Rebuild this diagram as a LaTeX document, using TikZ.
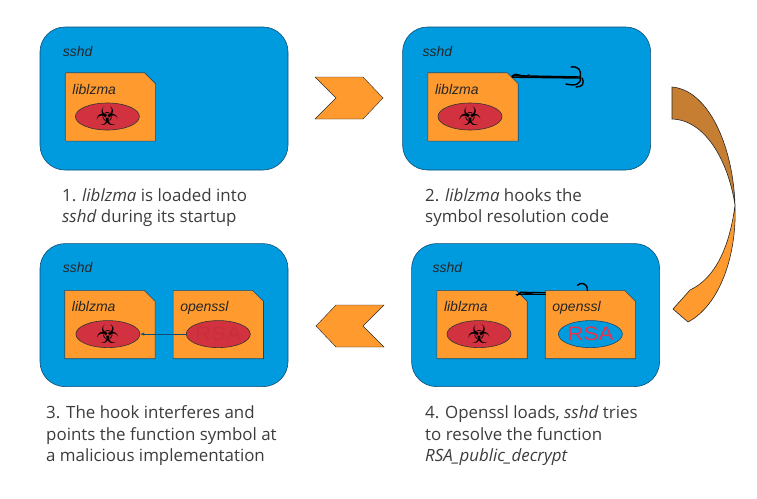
\documentclass[tikz,border=0pt]{standalone}
\usepackage{xcolor}
\usepackage{fontspec}
\setmainfont{Open Sans}
\newfontfamily\armfont{Liberation Sans}
\newfontfamily\biofont{DejaVu Sans}
\usetikzlibrary{
  arrows.meta,
  shapes.geometric,
  positioning,
  calc
}
\definecolor{ssBlue}{HTML}{009ADE}
\definecolor{ssEdge}{HTML}{0F4C75}
\definecolor{ssOrange}{HTML}{FF9A2E}
\definecolor{ssBrown}{HTML}{C67F32}
\definecolor{ssRed}{HTML}{D2323F}
\definecolor{ssRsa}{HTML}{E8344A}
\definecolor{ssText}{HTML}{3C3C3C}
\tikzset{
  procbox/.style={
    draw=ssEdge, fill=ssBlue, rounded corners=25pt, semithick,
    minimum width=248pt, minimum height=143pt, inner sep=0pt
  },
  libbox/.style={minimum width=90pt, minimum height=68pt, inner sep=0pt},
  libedge/.style={draw=ssEdge, fill=ssOrange, semithick},
  blob/.style={
    draw=black!80, ellipse, fill=ssRed, semithick,
    minimum width=64pt, minimum height=27pt, inner sep=0pt
  },
  bluebl/.style={blob, fill=ssBlue, draw=ssEdge},
  tag/.style={font=\armfont\fontsize{14}{16}\selectfont\itshape, text=black!85, inner sep=0pt, anchor=west},
  biotag/.style={font=\biofont\fontsize{26}{26}\selectfont, text=black, inner sep=0pt},
  rsatag/.style={font=\armfont\fontsize{19.5}{20}\selectfont, inner sep=0pt, xscale=1.15, transform shape},
  caption/.style={
    font=\fontsize{16.9}{21.6}\selectfont, text=ssText, align=left,
    inner sep=0pt, anchor=north west
  },
  chev/.style={draw=black!85, fill=ssOrange, thin},
  ribbon/.style={draw=black!85, semithick},
  hookline/.style={line width=1.4pt, black, line cap=round}
}

\begin{document}
\begin{tikzpicture}[x=1pt, y=-1pt]
  \useasboundingbox (0,0) rectangle (757,498);
  \node[procbox] (p1) at (164,98.5) {};
  \node[procbox, right=114pt of p1] (p2) {};
  \node[procbox, below=73pt of p1] (p3) {};
  \node[procbox, right=123pt of p3] (p4) {};
  \node[tag, below right=19pt and 23pt of p1.north west] (s1) {sshd};
  \node[tag, below right=19pt and 20pt of p2.north west] (s2) {sshd};
  \node[tag, below right=19pt and 23pt of p3.north west] (s3) {sshd};
  \node[tag, below right=19pt and 21pt of p4.north west] (s4) {sshd};
  % library boxes
  \node[libbox, below right=46pt and 25.5pt of p1.north west] (l1) {};
  \node[libbox, below right=46pt and 25.5pt of p2.north west] (l2) {};
  \node[libbox, below right=47pt and 25pt of p3.north west] (l3) {};
  \node[libbox, right=18pt of l3] (o3) {};
  \node[libbox, below right=47pt and 25.5pt of p4.north west] (l4) {};
  \node[libbox, right=18pt of l4] (o4) {};
  \foreach \b in {l1,l2,l3,o3,l4,o4}
    \draw[libedge] (\b.north west) -- ($(\b.north east)+(-11,0)$) -- ($(\b.north east)+(0,11)$)
      -- (\b.south east) -- (\b.south west) -- cycle;
  % first panel
  \node[tag, below right=11pt and 7pt of l1.north west] (t1) {liblzma};
  \node[blob, below=30pt of l1.north, xshift=-3pt] (b1) {};
  \node[biotag] at (b1) {☣};
  % second panel
  \node[tag, below right=11pt and 7pt of l2.north west] (t2) {liblzma};
  \node[blob, below=30pt of l2.north, xshift=-3pt] (b2) {};
  \node[biotag] at (b2) {☣};
  \coordinate (h2) at (580,77);
  \draw[hookline] ($(l2.north east)+(-6,3)$) -- (h2);
  \draw[hookline] ($(l2.north east)+(-6,4.5)$) -- ($(h2)+(0,1)$);
  \draw[hookline] ($(l2.north east)+(-6,4)$) .. controls (516,70) and (523,80) .. (529,75);
  \draw[hookline] (h2) .. controls (582,70) and (578,66) .. (571,67);
  \draw[hookline] (h2) .. controls (582,85) and (574,86) .. (566,84);
  \draw[hookline] ($(h2)+(2,1)$) .. controls (585,84) and (582,87) .. (576,87);
  % third panel
  \node[tag, below right=11pt and 7pt of l3.north west] (t3) {liblzma};
  \node[blob, below=30pt of l3.north, xshift=-2pt] (b3) {};
  \node[biotag] at (b3) {☣};
  \node[tag, below right=11pt and 7pt of o3.north west] (u3) {openssl};
  \node[blob, below=30pt of o3.north] (r3) {};
  \node[rsatag, text=ssRed!95!black] at (r3) {RSA};
  \draw[-{Latex[length=4pt]}, ssEdge] (r3.west) -- (b3.east);
  % fourth panel
  \node[tag, below right=11pt and 7pt of l4.north west] (t4) {liblzma};
  \node[blob, below=30pt of l4.north, xshift=-3pt] (b4) {};
  \node[biotag] at (b4) {☣};
  \node[tag, below right=11pt and 7pt of o4.north west] (u4) {openssl};
  \node[bluebl, below=30pt of o4.north] (r4) {};
  \node[rsatag, text=ssRsa] at (r4) {RSA};
  \draw[hookline] ($(l4.north east)+(-11,4)$) -- ($(o4.north west)+(0,4)$);
  \draw[hookline] ($(l4.north east)+(-7,2)$) -- ($(o4.north west)+(0,2.5)$);
  \draw[hookline] ($(l4.north east)+(-10,5)$) .. controls ($(l4.north east)+(-4,-2)$) and ($(l4.north east)+(0,7)$) .. ($(l4.north east)+(6,2)$);
  \coordinate (h4) at (o4.north);
  \draw[hookline] ($(h4)+(-3,0)$) .. controls ($(h4)+(-3,-8)$) and ($(h4)+(-10,-8)$) .. ($(h4)+(-13,-5)$);
  % arrows between panels
  \draw[chev] (315,77) -- (363,77) -- (383,98) -- (363,119) -- (315,119) -- (336,98) -- cycle;
  \draw[chev] (384,305) -- (336,305) -- (316,326) -- (336,347) -- (384,347) -- (363,326) -- cycle;
  \draw[ribbon, fill=ssBrown] (672,87) .. controls (708,90) and (733,145) .. (735,205)
    .. controls (728,160) and (705,120) .. (672,119) -- cycle;
  \draw[ribbon, fill=ssOrange] (735,205) .. controls (737,255) and (720,305) .. (688,322)
    -- (673,309) -- (690,290) .. controls (716,278) and (730,245) .. cycle;
  % captions
  \node[caption] (c1) at (62,188) {1. \textit{liblzma} is loaded into\\\textit{sshd} during its startup};
  \node[caption] (c2) at (425,188) {2. \textit{liblzma} hooks the\\symbol resolution code};
  \node[caption] (c3) at (46,405.5) {3. The hook interferes and\\points the function symbol at\\a malicious implementation};
  \node[caption] (c4) at (425,405.5) {4. Openssl loads, \textit{sshd} tries\\to resolve the function\\\textit{RSA\_public\_decrypt}};
\end{tikzpicture}
\end{document}
